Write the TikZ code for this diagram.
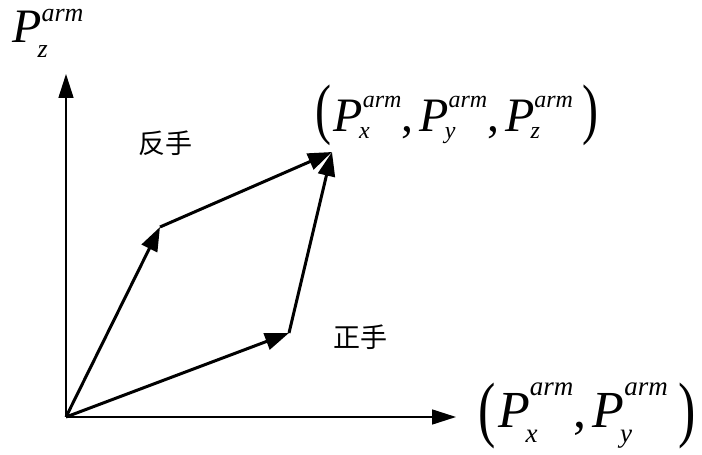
\documentclass[tikz,border=0pt]{standalone}
\usepackage{fontspec}
\setmainfont{Liberation Serif}
\newfontfamily\cjk{Noto Sans CJK SC}
\usepackage{tikz}
\usetikzlibrary{arrows.meta,positioning,calc}

% sizes of the indices, set per label
\def\scrsz{26}\def\supup{0.44em}\def\subdn{0.3em}
\newcommand{\scr}{\fontsize{\scrsz}{\scrsz}\selectfont\itshape}
\newcommand{\parm}[1]{\textit{P}\rlap{\raisebox{-\subdn}{\hspace{-0.08em}\scr #1}}\raisebox{\supup}{\scr arm}}
\newcommand{\tallparen}[2][0pt]{\raisebox{#1}{\scalebox{1}[1.4]{#2}}}
\newcommand{\sep}{,\hspace{0.12em}}

\begin{document}
\begin{tikzpicture}[x=1pt,y=1pt,font=\fontsize{48}{56}\selectfont,
    axis/.style={line width=1.6pt,-{Triangle[length=24pt,width=15pt]}},
    vec/.style={line width=3pt,-{Triangle[length=24pt,width=17pt]}},
    lab/.style={inner sep=0pt,anchor=base west},
    cn/.style={font=\cjk\fontsize{27}{30}\selectfont}]
  \useasboundingbox (0,0) rectangle (702,455);
  \coordinate (o) at (66,38);
  \coordinate (ztip) at (66,381);
  \coordinate (xtip) at (456,38);
  \coordinate (back) at (160,228);
  \coordinate (fore) at (289,122);
  \coordinate (top) at (332,303);
  \draw[axis] (o) -- (ztip);
  \draw[axis] (o) -- (xtip);
  \draw[vec] (o) -- (back);
  \draw[vec] (back) -- (top);
  \draw[vec] (o) -- (fore);
  \draw[vec] (fore) -- (top);
  \node[lab] (zlab) at (12,412) {\parm{z}};
  \node[lab,font=\fontsize{48}{56}\selectfont\def\scrsz{24}\def\supup{0.52em}\def\subdn{0.13em}] (toplab) at (315,323)
    {\tallparen{(}\hspace{0.05em}\parm{x}\sep\parm{y}\sep\parm{z}\hspace{0.2em}\tallparen{)}};
  \node[lab,font=\fontsize{52}{60}\selectfont\def\scrsz{27}\def\supup{0.62em}\def\subdn{0.27em}] (xylab) at (478,27)
    {\tallparen[-6pt]{(}\hspace{0.05em}\parm{x}\sep\parm{y}\hspace{0.2em}\tallparen[-6pt]{)}};
  \node[cn] (backlab) at (165,312) {反手};
  \node[cn] (forelab) at (360,118) {正手};
\end{tikzpicture}
\end{document}
